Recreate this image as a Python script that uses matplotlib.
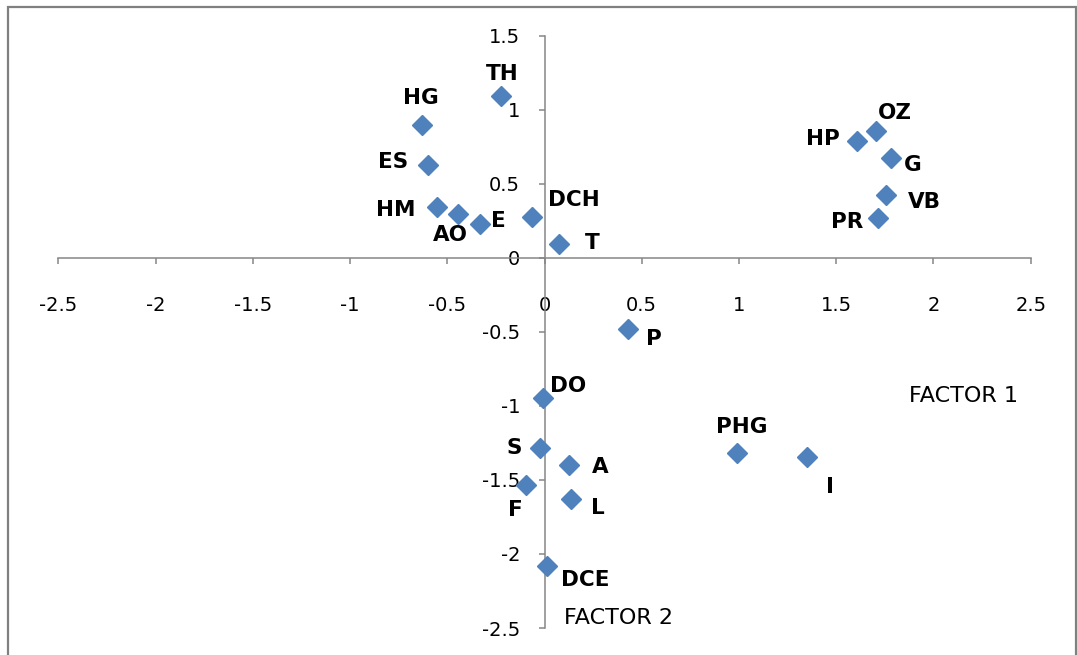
import matplotlib.pyplot as plt
from matplotlib.patches import Rectangle

# factor scores
names = ['TH', 'HG', 'ES', 'HM', 'AO', 'E', 'DCH', 'T',
         'OZ', 'HP', 'G', 'VB', 'PR',
         'P', 'DO', 'S', 'A', 'F', 'L', 'DCE', 'PHG', 'I']
factor1 = [-0.226, -0.628, -0.599, -0.551, -0.443, -0.332, -0.062, 0.077,
           1.705, 1.605, 1.781, 1.756, 1.713,
           0.430, -0.009, -0.024, 0.127, -0.094, 0.134, 0.014, 0.989, 1.349]
factor2 = [1.094, 0.897, 0.624, 0.345, 0.293, 0.231, 0.273, 0.090,
           0.856, 0.789, 0.676, 0.424, 0.266,
           -0.484, -0.946, -1.284, -1.396, -1.536, -1.626, -2.081, -1.315, -1.345]
# label offsets in pixels (dx right, dy down) as placed in the original
offsets_px = [(2, -22), (-1, -27), (-35, -3), (-42, 3), (-8, 21), (18, -3), (41, -17), (33, -1),
              (19, -18), (-34, -2), (22, 7), (38, 7), (-31, 4),
              (26, 10), (25, -12), (-26, 0), (31, 2), (-11, 25), (27, 9), (38, 14), (5, -26), (23, 30)]

ticks = [-2.5, -2, -1.5, -1, -0.5, 0, 0.5, 1, 1.5, 2, 2.5]
yticks = [-2.5, -2, -1.5, -1, -0.5, 0, 0.5, 1, 1.5]

fig = plt.figure(figsize=(10.77, 6.55), dpi=100)
ax = fig.add_axes([58.3/1077, 1-628/655, (1030.7-58.3)/1077, (628-35.7)/655])

gray = '#868686'
ax.plot(factor1, factor2, 'D', ms=10, color='#4F81BD', mec='#4F81BD', zorder=3)

for n, x, y, (dx, dy) in zip(names, factor1, factor2, offsets_px):
    ax.annotate(n, (x, y), xytext=(dx*0.72, -dy*0.72), textcoords='offset points',
                ha='center', va='center', fontsize=15.5, fontweight='bold', color='black')

ax.text(2.153, -0.932, 'FACTOR 1', ha='center', va='center', fontsize=16)
ax.text(0.38, -2.43, 'FACTOR 2', ha='center', va='center', fontsize=16)

ax.set_xlim(-2.5, 2.5)
ax.set_ylim(-2.5, 1.5)
ax.set_xticks(ticks)
ax.set_yticks(yticks)
ax.set_xticklabels([f'{t:g}' for t in ticks])
ax.set_yticklabels([f'{t:g}' for t in yticks])

for s in ['top', 'right']:
    ax.spines[s].set_visible(False)
for s in ['left', 'bottom']:
    ax.spines[s].set_position(('data', 0))
    ax.spines[s].set_color(gray)
    ax.spines[s].set_linewidth(1.1)
ax.tick_params(axis='x', direction='out', length=4.5, width=1.1, color=gray, pad=23, labelsize=14)
ax.tick_params(axis='y', direction='out', length=4.5, width=1.1, color=gray, pad=13, labelsize=14)
ax.patch.set_visible(False)

fig.patches.append(Rectangle((8/1077, -0.05), 1068/1077, 1.05 - 7/655, transform=fig.transFigure,
                             fill=False, edgecolor='#808080', linewidth=1.6))

fig.savefig('out.png', dpi=100)
